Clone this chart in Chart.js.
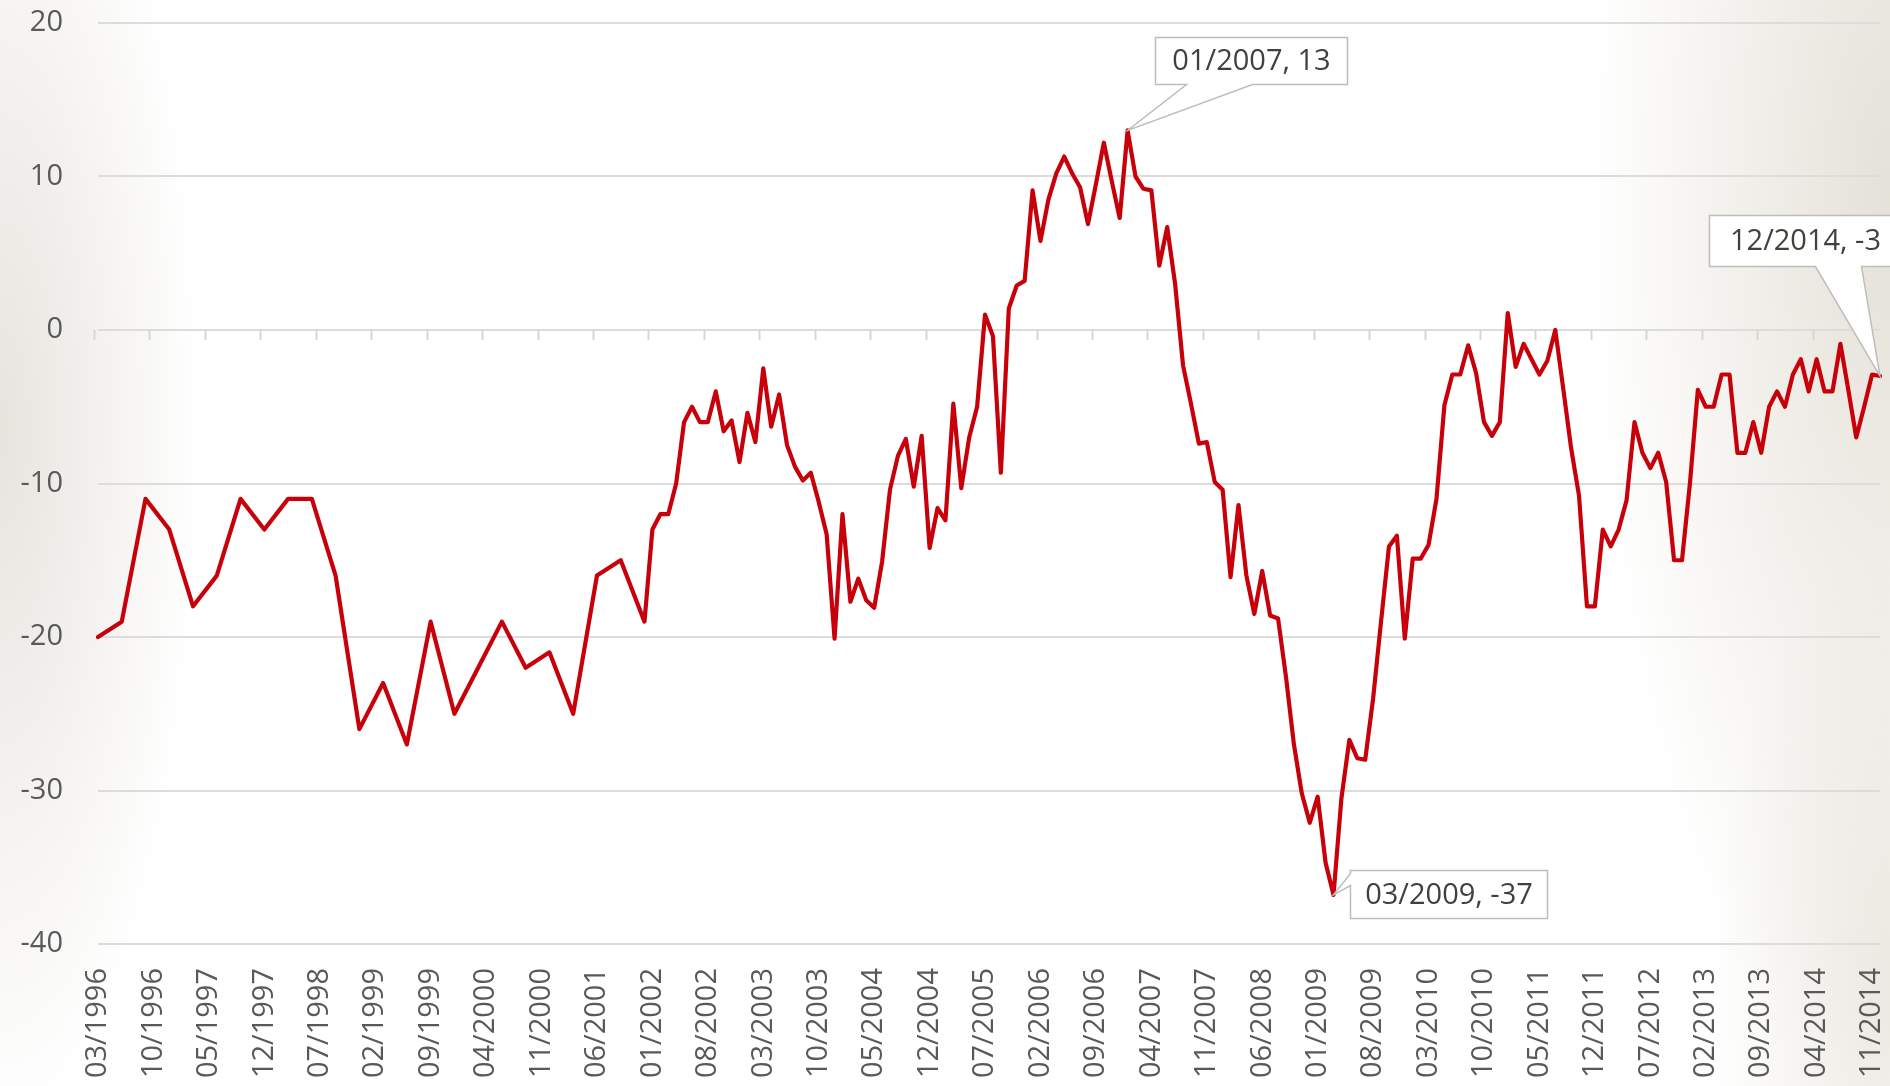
<!DOCTYPE html>
<html>
<head>
<meta charset="utf-8">
<script src="https://cdn.jsdelivr.net/npm/chart.js@4.4.1/dist/chart.umd.min.js"></script>
<style>
html,body{margin:0;padding:0;width:1890px;height:1086px;overflow:hidden;}
body{
  background:
    radial-gradient(ellipse 200px 700px at 0px 430px, rgba(228,225,218,0.9), rgba(255,255,255,0) 100%),
    radial-gradient(ellipse 300px 900px at 1890px 200px, rgba(224,220,209,0.85), rgba(255,255,255,0) 100%),
    radial-gradient(ellipse 180px 450px at 1890px 1000px, rgba(232,229,220,0.8), rgba(255,255,255,0) 100%),
    #ffffff;
}
#wrap{position:absolute;left:0;top:0;width:1890px;height:1086px;}
</style>
</head>
<body>
<div id="wrap"><canvas id="c" width="1890" height="1086"></canvas></div>
<script>
// ---- data ----
const firstMonth = {year: 1996, month: 3};
const lastMonth = {year: 2014, month: 12};
// quarterly readings 03/1996 ... 12/2001
const quarterlyValues = [-20, -19, -11, -13, -18, -16, -11, -13, -11, -11, -16, -26,
                         -23, -27, -19, -25, -22, -19, -22, -21, -25, -16, -15, -19];
// monthly readings 01/2002 ... 12/2014
const values2002 = [-13, -12, -12, -10, -6, -5, -6, -6, -4, -6.6, -5.9, -8.6];
const values2003 = [-5.4, -7.3, -2.5, -6.3, -4.2, -7.5, -8.9, -9.8, -9.3, -11.2, -13.3, -20.1];
const values2004 = [-12, -17.7, -16.2, -17.6, -18.1, -15.1, -10.4, -8.2, -7.1, -10.2, -6.9, -14.2];
const values2005 = [-11.6, -12.4, -4.8, -10.3, -7, -5, 1, -0.4, -9.3, 1.4, 2.9, 3.2];
const values2006 = [9.1, 5.8, 8.5, 10.2, 11.3, 10.2, 9.3, 6.9, 9.5, 12.2, 9.7, 7.3];
const values2007 = [13, 10, 9.2, 9.1, 4.2, 6.7, 3, -2.3, -4.8, -7.4, -7.3, -9.9];
const values2008 = [-10.4, -16.1, -11.4, -16, -18.5, -15.7, -18.6, -18.8, -22.6, -27, -30.2, -32.1];
const values2009 = [-30.4, -34.7, -36.8, -30.5, -26.7, -27.9, -28, -24, -19, -14.1, -13.4, -20.1];
const values2010 = [-14.9, -14.9, -14, -11, -4.9, -2.9, -2.9, -1, -2.8, -6, -6.9, -6];
const values2011 = [1.1, -2.4, -0.9, -1.9, -2.9, -2, 0, -3.8, -7.7, -10.8, -18, -18];
const values2012 = [-13, -14.1, -13, -11.1, -6, -8, -9, -8, -9.9, -15, -15, -10];
const values2013 = [-3.9, -5, -5, -2.9, -2.9, -8, -8, -6, -8, -5, -4, -5];
const values2014 = [-2.9, -1.9, -4, -1.9, -4, -4, -0.9, -3.9, -7, -5, -2.9, -3];

const tickLabels = ['03/1996','10/1996','05/1997','12/1997','07/1998','02/1999','09/1999','04/2000',
  '11/2000','06/2001','01/2002','08/2002','03/2003','10/2003','05/2004','12/2004','07/2005','02/2006',
  '09/2006','04/2007','11/2007','06/2008','01/2009','08/2009','03/2010','10/2010','05/2011','12/2011',
  '07/2012','02/2013','09/2013','04/2014','11/2014'];

const callouts = [
  {label: '01/2007', text: '01/2007, 13'},
  {label: '03/2009', text: '03/2009, -37'},
  {label: '12/2014', text: '12/2014, -3'}
];

// ---- build categories (every month) and series ----
const categories = [];
for (let y = firstMonth.year, m = firstMonth.month; y < lastMonth.year || (y === lastMonth.year && m <= lastMonth.month); ) {
  categories.push(String(m).padStart(2, '0') + '/' + y);
  m++; if (m > 12) { m = 1; y++; }
}
const monthlyValues = [].concat(values2002, values2003, values2004, values2005, values2006, values2007,
  values2008, values2009, values2010, values2011, values2012, values2013, values2014);
const monthlyStart = categories.indexOf('01/2002');
const series = categories.map((c, i) => {
  if (i < monthlyStart) return (i % 3 === 0) ? quarterlyValues[i / 3] : null;
  return monthlyValues[i - monthlyStart];
});

const FONT = "'Open Sans', 'DejaVu Sans', sans-serif";

// tick marks hanging from the zero line
const zeroTicks = {
  id: 'zeroTicks',
  beforeDatasetsDraw(chart) {
    const xs = chart.scales.x, ys = chart.scales.y, ctx = chart.ctx;
    const y0 = ys.getPixelForValue(0);
    const step = xs.getPixelForValue(1) - xs.getPixelForValue(0);
    ctx.save();
    ctx.strokeStyle = '#d6d6d6';
    ctx.lineWidth = 2;
    xs.ticks.forEach(t => {
      const px = Math.round(xs.getPixelForValue(t.value) - step / 2) + 0.5;
      ctx.beginPath(); ctx.moveTo(px, y0); ctx.lineTo(px, y0 + 10); ctx.stroke();
    });
    ctx.restore();
  }
};

// Excel-like data callouts
const calloutGeom = {
  '01/2007': {dx: 27, dy: -93, w: 192, h: 47, wedge: 'bottom', a: 31, b: 97},
  '03/2009': {dx: 16, dy: -25, w: 197, h: 48, wedge: 'left', a: 3, b: 15},
  '12/2014': {dx: -171, dy: -161, w: 192, h: 51, wedge: 'bottom', a: 106, b: 152}
};
const calloutPlugin = {
  id: 'callouts',
  afterDatasetsDraw(chart) {
    const xs = chart.scales.x, ys = chart.scales.y, ctx = chart.ctx;
    ctx.save();
    callouts.forEach(c => {
      const i = categories.indexOf(c.label);
      const px = xs.getPixelForValue(i), py = ys.getPixelForValue(series[i]);
      const g = calloutGeom[c.label];
      const bx = Math.round(px + g.dx) + 0.5, by = Math.round(py + g.dy) + 0.5;
      ctx.beginPath();
      if (g.wedge === 'bottom') {
        ctx.moveTo(bx, by); ctx.lineTo(bx + g.w, by); ctx.lineTo(bx + g.w, by + g.h);
        ctx.lineTo(bx + g.b, by + g.h); ctx.lineTo(px, py); ctx.lineTo(bx + g.a, by + g.h);
        ctx.lineTo(bx, by + g.h); ctx.closePath();
      } else {
        ctx.moveTo(bx, by); ctx.lineTo(bx + g.w, by); ctx.lineTo(bx + g.w, by + g.h);
        ctx.lineTo(bx, by + g.h); ctx.lineTo(bx, by + g.b); ctx.lineTo(px, py);
        ctx.lineTo(bx, by + g.a); ctx.closePath();
      }
      ctx.fillStyle = 'rgba(255,255,255,0.96)';
      ctx.fill();
      ctx.strokeStyle = '#bdbdbd';
      ctx.lineWidth = 1.5;
      ctx.stroke();
      ctx.fillStyle = '#404040';
      ctx.font = '29px ' + FONT;
      ctx.textAlign = 'center';
      ctx.textBaseline = 'middle';
      ctx.fillText(c.text, bx + g.w / 2, by + g.h / 2 + 1);
    });
    ctx.restore();
  }
};

new Chart(document.getElementById('c'), {
  type: 'line',
  data: {
    labels: categories,
    datasets: [{
      data: series,
      borderColor: '#c8000a',
      borderWidth: 4.2,
      borderJoinStyle: 'round',
      borderCapStyle: 'round',
      pointRadius: 0,
      tension: 0,
      spanGaps: true,
      fill: false
    }]
  },
  options: {
    responsive: false,
    animation: false,
    layout: {padding: {top: 23, right: 10, left: 0, bottom: 0}},
    plugins: {legend: {display: false}, tooltip: {enabled: false}},
    scales: {
      x: {
        type: 'category',
        offset: false,
        grid: {display: false, drawTicks: false},
        border: {display: false},
        ticks: {
          autoSkip: false, maxRotation: 90, minRotation: 90, padding: 24,
          font: {family: FONT, size: 29}, color: '#595959'
        },
        afterBuildTicks: s => { s.ticks = s.ticks.filter(t => tickLabels.includes(categories[t.value])); },
        afterFit: s => { s.height = 142; s.paddingLeft = 0; s.paddingRight = 0; }
      },
      y: {
        min: -40, max: 20,
        ticks: {stepSize: 10, padding: 35, font: {family: FONT, size: 29}, color: '#595959'},
        grid: {color: '#dcdcdc', lineWidth: 2, drawTicks: false},
        border: {display: false},
        afterFit: s => { s.width = 98; s.paddingTop = 0; s.paddingBottom = 0; }
      }
    }
  },
  plugins: [zeroTicks, calloutPlugin]
});
</script>
</body>
</html>
